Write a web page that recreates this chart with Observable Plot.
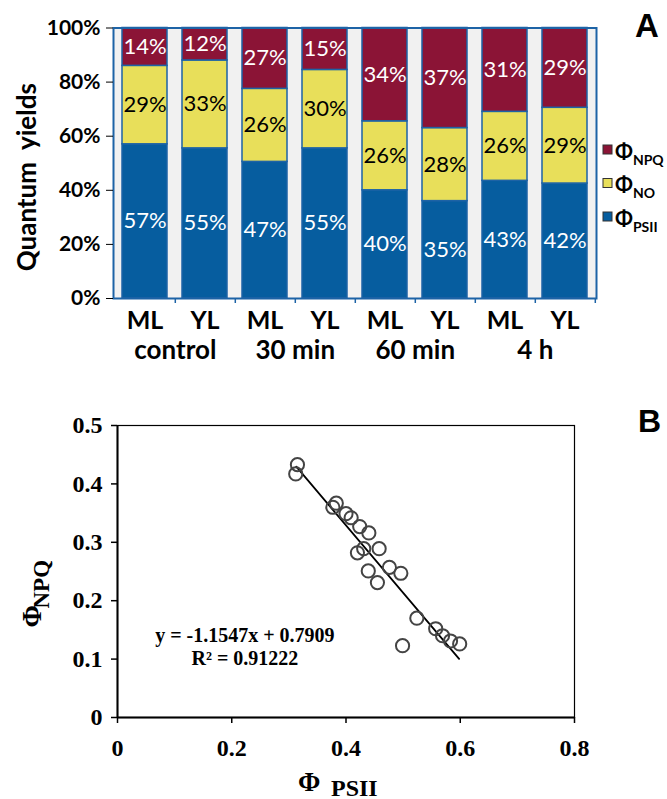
<!DOCTYPE html>
<html><head><meta charset="utf-8">
<script src="https://cdn.jsdelivr.net/npm/d3@7"></script>
<script src="https://cdn.jsdelivr.net/npm/@observablehq/plot@0.6"></script>
<style>
html,body{margin:0;padding:0;background:#fff;}
body{width:667px;height:799px;position:relative;overflow:hidden;}
#a{position:absolute;left:0;top:0;}
#b{position:absolute;left:0;top:380px;}
#ov{position:absolute;left:0;top:0;pointer-events:none;}
</style></head><body>
<div id="a"></div><div id="b"></div>
<script>
// ---------- Panel A data ----------
const categories = ["ML control","YL control","ML 30 min","YL 30 min","ML 60 min","YL 60 min","ML 4 h","YL 4 h"];
const lightLabels = ["ML","YL","ML","YL","ML","YL","ML","YL"];
const groups = ["control","30 min","60 min","4 h"];
const seriesNames = ["PSII","NO","NPQ"];
const colors = ["#065d9f","#e8df5a","#8b1436"];
const psii = [57, 55.5, 50.5, 55.5, 40, 36, 43.5, 42.5];
const no   = [29, 32.5, 27, 29, 25.5, 27, 25.5, 28];
const npq  = [14, 12, 22.5, 15.5, 34.5, 37, 31, 29.5];
const psiiText = ["57%","55%","47%","55%","40%","35%","43%","42%"];
const noText   = ["29%","33%","26%","30%","26%","28%","26%","29%"];
const npqText  = ["14%","12%","27%","15%","34%","37%","31%","29%"];
const yTicksA = [0,20,40,60,80,100];
const yTitleA = "Quantum  yields";

// ---------- Panel B data ----------
const phiPSII = [0.315,0.312,0.383,0.377,0.400,0.409,0.424,0.440,0.420,0.431,0.458,0.476,0.496,0.439,0.455,0.524,0.557,0.569,0.583,0.599,0.499];
const phiNPQ  = [0.433,0.417,0.367,0.360,0.349,0.342,0.327,0.316,0.282,0.289,0.289,0.257,0.247,0.251,0.231,0.170,0.152,0.140,0.131,0.126,0.123];
const fitSlope = -1.1547, fitIntercept = 0.7909;
const fitXRange = [0.313, 0.598];
const eqLines = ["y = -1.1547x + 0.7909", "R\u00b2 = 0.91222"];
const xTicksB = [0,0.2,0.4,0.6,0.8];
const yTicksB = [0,0.1,0.2,0.3,0.4,0.5];

// ---------- Panel A ----------
const rows = [];
categories.forEach((c,i)=>{
  rows.push({cat:c, series:"PSII", value:psii[i], label:psiiText[i]});
  rows.push({cat:c, series:"NO", value:no[i], label:noText[i]});
  rows.push({cat:c, series:"NPQ", value:npq[i], label:npqText[i]});
});
const edge = "#1d63a6";
const step = 60.6;
const chartA = Plot.plot({
  width:667, height:380,
  marginTop:27.5, marginBottom:82, marginLeft:113, marginRight:71,
  style:{fontFamily:"Lato, sans-serif", background:"transparent", overflow:"visible", color:"#000"},
  x:{domain:categories, paddingInner:0.25, paddingOuter:0.11},
  y:{domain:[0,100]},
  color:{domain:seriesNames, range:colors},
  marks:[
    Plot.frame({fill:"#f1f1f1"}),
    Plot.barY(rows, {x:"cat", y:"value", fill:"series", stroke:edge, strokeWidth:1.5}),
    Plot.text(rows, Plot.stackY({x:"cat", y:"value", z:"series", text:d=>d.series==="NO"?"":d.label, fill:"white", fontSize:22})),
    Plot.text(rows, Plot.stackY({x:"cat", y:"value", z:"series", text:d=>d.series==="NO"?d.label:"", fill:"black", fontSize:22})),
    Plot.frame({stroke:edge, strokeWidth:2}),
    Plot.ruleX(categories, {x:d=>d, dx:step/2, y1:0, y2:0, insetBottom:-5, stroke:edge, strokeWidth:1.5}),
    Plot.axisY({ticks:yTicksA, tickFormat:d=>d+"%", tickSize:7, tickPadding:6, fontSize:21, fontWeight:"bold", label:null}),
    Plot.axisX({tickSize:0, tickPadding:13, fontSize:25, fontWeight:"bold", tickFormat:d=>lightLabels[categories.indexOf(d)], label:null}),
    Plot.text(groups, {x:(d,i)=>categories[2*i], text:d=>d, dx:step/2, frameAnchor:"bottom", dy:60, fontSize:26, fontWeight:"bold"}),
    Plot.text([yTitleA], {text:d=>d, frameAnchor:"left", textAnchor:"middle", dx:-86, dy:14, rotate:-90, fontSize:26, fontWeight:"bold"})
  ]
});
document.getElementById("a").appendChild(chartA);

// ---------- Panel B ----------
const fmt = d => d === 0 ? "0" : d3.format(".1f")(d);
const pts = phiPSII.map((x,i)=>({x, y:phiNPQ[i]}));
const chartB = Plot.plot({
  width:667, height:419,
  marginTop:45, marginBottom:82, marginLeft:117, marginRight:93,
  style:{fontFamily:"'Liberation Serif', 'Times New Roman', serif", background:"transparent", overflow:"visible", color:"#000"},
  x:{domain:[0,0.8]}, y:{domain:[0,0.5]},
  marks:[
    Plot.frame({stroke:"#000", strokeWidth:1.2}),
    Plot.ruleX([0], {strokeWidth:2}),
    Plot.ruleY([0], {strokeWidth:2}),
    Plot.axisX({ticks:xTicksB, tickFormat:fmt, tickSize:6, tickPadding:15, fontSize:24, fontWeight:"bold", label:null, strokeWidth:1.5}),
    Plot.axisY({ticks:yTicksB, tickFormat:fmt, tickSize:6, tickPadding:9, fontSize:24, fontWeight:"bold", label:null, strokeWidth:1.5}),
    Plot.line(fitXRange, {x:d=>d, y:d=>fitSlope*d+fitIntercept, stroke:"#000", strokeWidth:1.8}),
    Plot.dot(pts, {x:"x", y:"y", r:6.6, stroke:"#444", strokeWidth:2, fill:"none"}),
    Plot.text([eqLines[0]], {text:d=>d, x:0.223, y:0.141, fontSize:20, fontWeight:"bold"}),
    Plot.text([eqLines[1]], {text:d=>d, x:0.223, y:0.1015, fontSize:20, fontWeight:"bold"}),
    // axis titles
    Plot.text(["\u03a6"], {text:d=>d, frameAnchor:"bottom", textAnchor:"start", lineAnchor:"bottom", dx:-48, dy:73, fontSize:27, fontWeight:"bold"}),
    Plot.text(["PSII"], {text:d=>d, frameAnchor:"bottom", textAnchor:"start", lineAnchor:"bottom", dx:-15, dy:78, fontSize:24, fontWeight:"bold"}),
    Plot.text(["\u03a6"], {text:d=>d, frameAnchor:"left", textAnchor:"start", lineAnchor:"bottom", rotate:-90, dx:-77, dy:56, fontSize:27, fontWeight:"bold"}),
    Plot.text(["NPQ"], {text:d=>d, frameAnchor:"left", textAnchor:"start", lineAnchor:"bottom", rotate:-90, dx:-69, dy:37, fontSize:23, fontWeight:"bold"})
  ]
});
document.getElementById("b").appendChild(chartB);

// ---------- Overlay: panel letters & legend ----------
const ov = d3.select("body").append("svg").attr("id","ov").attr("width",667).attr("height",799);
ov.append("text").attr("x",635).attr("y",37).attr("font-family","'Liberation Sans', Arial, sans-serif").attr("font-weight","bold").attr("font-size",33).text("A");
ov.append("text").attr("x",638).attr("y",432).attr("font-family","'Liberation Sans', Arial, sans-serif").attr("font-weight","bold").attr("font-size",32).text("B");
const legendItems = ["NPQ","NO","PSII"];
legendItems.forEach((s,i)=>{
  const top = 145 + i*33.5;
  ov.append("rect").attr("x",603).attr("y",top).attr("width",9).attr("height",9)
    .attr("fill",colors[seriesNames.indexOf(s)]).attr("stroke","#333").attr("stroke-width",1);
  const t = ov.append("text").attr("x",615).attr("y",top+13.5).attr("font-family","Lato, sans-serif").attr("font-weight","bold").attr("font-size",21);
  t.append("tspan").text("\u03a6");
  t.append("tspan").attr("dy",6).attr("font-size",14).text(s);
});
</script>
</body></html>
